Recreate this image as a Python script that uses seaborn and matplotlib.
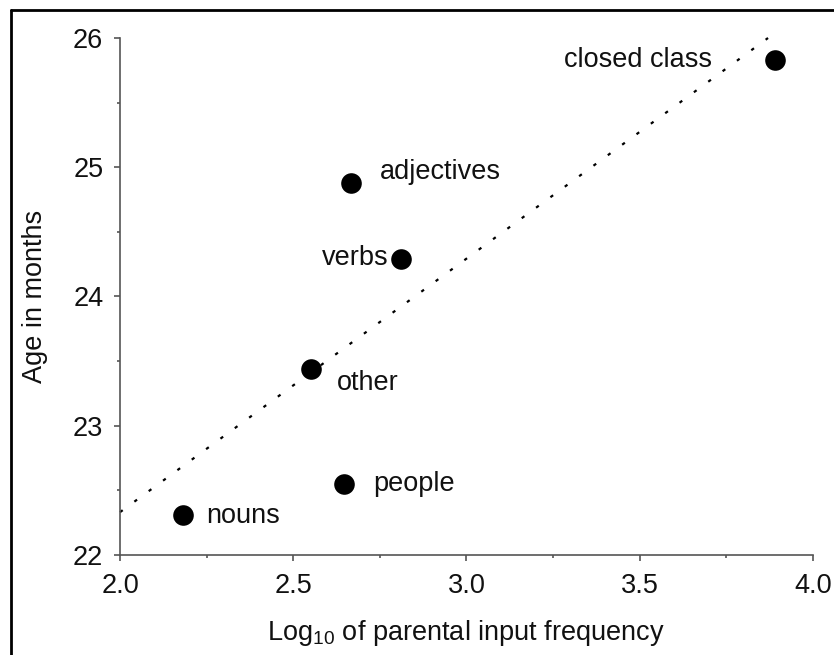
import numpy as np
import pandas as pd
import matplotlib
matplotlib.use("Agg")
import matplotlib.pyplot as plt
from matplotlib.lines import Line2D
from matplotlib.ticker import MultipleLocator
import seaborn as sns

# word categories, log10 parental input frequency, age of acquisition (months)
categories = ["closed class", "adjectives", "verbs", "other", "people", "nouns"]
log_freq = [3.89, 2.667, 2.811, 2.551, 2.646, 2.182]
age_months = [25.83, 24.88, 24.29, 23.44, 22.55, 22.31]

# label offsets (points) relative to each dot
label_dx = [-45, 21, -9, 19, 21, 17]
label_dy = [0, 8, 1, -10, 0, -1]
label_ha = ["right", "left", "right", "left", "left", "left"]

df = pd.DataFrame({"category": categories, "freq": log_freq, "age": age_months})

sns.set_style("ticks")
plt.rcParams["font.family"] = ["Liberation Sans", "DejaVu Sans"]
plt.rcParams["mathtext.default"] = "regular"

fig = plt.figure(figsize=(8.34, 6.55), dpi=100)
ax = fig.add_axes([0.1439, 0.1527, 0.8309, 0.7893])

# least squares trend line, drawn from x=2.0 to where it reaches 26
slope, intercept = np.polyfit(df["freq"], df["age"], 1)
x_end = (26.0 - intercept) / slope
trend = pd.DataFrame({"x": [2.0, x_end]})
trend["y"] = intercept + slope * trend["x"]
sns.lineplot(data=trend, x="x", y="y", ax=ax, color="black",
             linestyle=(0, (1.5, 6.5)), linewidth=1.6, clip_on=False)

sns.scatterplot(data=df, x="freq", y="age", ax=ax, color="black",
                s=220, linewidth=0, clip_on=False, zorder=3)

fs = 19.5
for i, row in df.iterrows():
    ax.annotate(row["category"], (row["freq"], row["age"]),
                xytext=(label_dx[i], label_dy[i]), textcoords="offset points",
                ha=label_ha[i], va="center", fontsize=fs, color="#111111")

ax.set_xlim(2.0, 4.0)
ax.set_ylim(22, 26)
ax.xaxis.set_minor_locator(MultipleLocator(0.25))
ax.yaxis.set_major_locator(MultipleLocator(1))
ax.yaxis.set_minor_locator(MultipleLocator(0.5))
ax.set_xticks([2.0, 2.5, 3.0, 3.5, 4.0])
ax.set_xticklabels(["2.0", "2.5", "3.0", "3.5", "4.0"])

spine_col = "#555555"
sns.despine(ax=ax)
for side in ["left", "bottom"]:
    ax.spines[side].set_color(spine_col)
    ax.spines[side].set_linewidth(1.2)
ax.tick_params(which="major", length=4, width=1.2, color=spine_col,
               labelsize=fs, labelcolor="#111111")
ax.tick_params(axis="x", which="major", pad=9)
ax.tick_params(axis="y", which="major", pad=8)
ax.tick_params(which="minor", length=2.5, width=1.2, color=spine_col)

ax.set_xlabel("Log$_{10}$ of parental input frequency", fontsize=fs,
              color="#111111", labelpad=14)
ax.set_ylabel("Age in months", fontsize=fs, color="#111111", labelpad=18)

# frame lines along top and left edges of the figure
fig.add_artist(Line2D([0.0132, 1.0], [0.985, 0.985], color="black", lw=2,
                      transform=fig.transFigure))
fig.add_artist(Line2D([0.0132, 0.0132], [0.0, 0.985], color="black", lw=2,
                      transform=fig.transFigure))

fig.savefig("out.png", dpi=100)
